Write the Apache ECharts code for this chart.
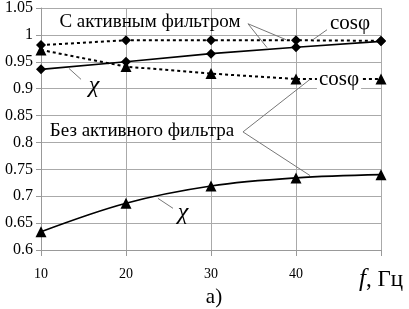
<!DOCTYPE html>
<html><head><meta charset="utf-8">
<script src="https://cdn.jsdelivr.net/npm/echarts@6/dist/echarts.min.js"></script>
<style>html,body{margin:0;padding:0;background:#fff}#c{width:409px;height:309px}</style>
</head><body><div id="c"></div>
<script>
const freqs = [10, 20, 30, 40, 50];
const chiWithFilter = [0.936, 0.950, 0.965, 0.977, 0.988];
const cosWithFilter = [0.981, 0.990, 0.990, 0.990, 0.989];
const cosNoFilter = [0.972, 0.941, 0.928, 0.918, 0.918];
const chiNoFilter = [0.634, 0.687, 0.719, 0.734, 0.740];
const yTicks = [0.6, 0.65, 0.7, 0.75, 0.8, 0.85, 0.9, 0.95, 1, 1.05];
const xTickLabels = ['10', '20', '30', '40', '{i|f}{n|, Гц}'];

const FONT = 'Liberation Serif';
const pairs = vals => freqs.map((f, i) => [f, vals[i]]);

const chart = echarts.init(document.getElementById('c'));
const ser = (vals, sym, dotted, smooth) => ({
  type: 'line', data: pairs(vals), symbol: sym, symbolSize: sym === 'triangle' ? 11 : 10,
  smooth: smooth ? 0.35 : false,
  itemStyle: { color: '#000' },
  lineStyle: { color: '#000', width: dotted ? 2 : 1.7, type: dotted ? [3, 3] : 'solid' },
  animation: false, z: 3
});
chart.setOption({
  animation: false,
  textStyle: { fontFamily: FONT },
  grid: { left: 41, right: 28, top: 6, bottom: 59 },
  xAxis: {
    type: 'value', min: 10, max: 50, interval: 10,
    axisLine: { lineStyle: { color: '#999' } },
    axisTick: { show: true, length: 6, lineStyle: { color: '#999' } },
    splitLine: { show: true, lineStyle: { color: '#aaa', width: 1 } },
    axisLabel: {
      margin: 17, color: '#000', fontFamily: FONT, fontSize: 14,
      formatter: v => xTickLabels[freqs.indexOf(v)],
      rich: {
        i: { fontStyle: 'italic', fontFamily: FONT, fontSize: 25, color: '#000' },
        n: { fontFamily: FONT, fontSize: 23, color: '#000' }
      }
    }
  },
  yAxis: {
    type: 'value', min: 0.6, max: 1.05, interval: 0.05,
    axisLine: { show: true, lineStyle: { color: '#999' } },
    axisTick: { show: true, length: 5, lineStyle: { color: '#999' } },
    splitLine: { show: true, lineStyle: { color: '#aaa', width: 1 } },
    axisLabel: {
      margin: 8, color: '#000', fontFamily: FONT, fontSize: 16,
      formatter: v => { const t = yTicks.find(x => Math.abs(x - v) < 1e-6); return t === undefined ? '' : String(t); }
    }
  },
  series: [
    ser(chiWithFilter, 'diamond', false, false),
    ser(cosWithFilter, 'diamond', true, false),
    ser(cosNoFilter, 'triangle', true, false),
    ser(chiNoFilter, 'triangle', false, true)
  ]
});

// annotations in data coordinates
const leaders = [
  [[34.35, 1.0207], [38.82, 0.9911]],
  [[34.35, 1.0207], [36.59, 0.9764]],
  [[43.65, 1.0096], [42.0, 0.9911]],
  [[33.76, 0.8196], [41.65, 0.9173]],
  [[33.76, 0.8196], [41.65, 0.7384]],
  [[13.29, 0.9376], [14.71, 0.9173]],
  [[23.76, 0.6960], [25.53, 0.6775]]
];
const labels = [
  { t: 'С активным фильтром', p: [22.82, 1.0244], s: 19 },
  { t: 'cosφ', p: [46.35, 1.0207], s: 21 },
  { t: 'χ', p: [16.24, 0.9063], s: 24, it: true },
  { t: 'Без активного фильтра', p: [21.88, 0.8214], s: 19 },
  { t: 'cosφ', p: [45.06, 0.9173], s: 21, bg: true },
  { t: 'χ', p: [26.71, 0.6701], s: 24, it: true }
];
const px = p => chart.convertToPixel({ gridIndex: 0 }, p);
const g = [];
leaders.forEach(([a, b]) => {
  const A = px(a), B = px(b);
  g.push({ type: 'line', z: 10, shape: { x1: A[0], y1: A[1], x2: B[0], y2: B[1] }, style: { stroke: '#777', lineWidth: 1 } });
});
labels.forEach(l => {
  const P = px(l.p);
  g.push({ type: 'text', z: 11, x: P[0], y: P[1], style: {
    text: l.t, font: (l.it ? 'italic ' : '') + l.s + 'px "Liberation Serif"', fill: '#000', align: 'center', verticalAlign: 'middle',
    backgroundColor: l.bg ? '#fff' : undefined, padding: l.bg ? [0, 2] : 0
  } });
});
g.push({ type: 'text', x: 214, y: 297, style: { text: 'а)', font: '21px "Liberation Serif"', fill: '#000', align: 'center', verticalAlign: 'middle' } });
chart.setOption({ graphic: g });
</script></body></html>
